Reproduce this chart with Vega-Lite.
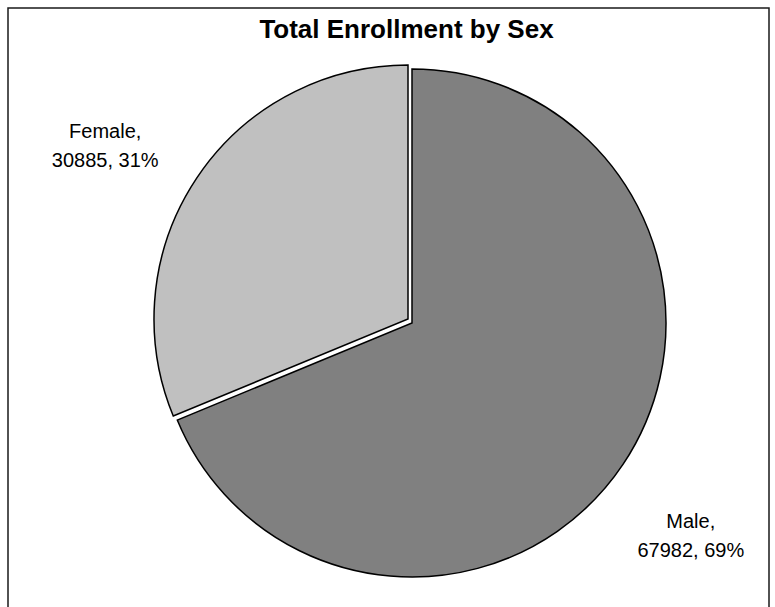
{
  "$schema": "https://vega.github.io/schema/vega-lite/v6.json",
  "width": 761,
  "height": 600,
  "autosize": {"type": "none"},
  "padding": {"left": 8, "top": 8, "right": 6, "bottom": 0},
  "background": "white",
  "config": {"view": {"stroke": null}, "font": "Liberation Sans"},
  "title": {"text": "Total Enrollment by Sex", "font": "Liberation Sans", "fontSize": 26, "fontWeight": "bold", "color": "black", "anchor": "middle", "orient": "top", "offset": -57, "baseline": "alphabetic", "dx": 18},
  "data": {"values": [
    {"sex": "Male", "n": 67982, "label": "Male,\n67982, 69%"},
    {"sex": "Female", "n": 30885, "label": "Female,\n30885, 31%"}
  ]},
  "layer": [
    {
      "data": {"values": [{"frame": "border"}]},
      "mark": {"type": "rect", "fill": null, "stroke": "#1a1a1a", "strokeWidth": 1.5},
      "encoding": {}
    },
    {
      "mark": {"type": "arc", "radius": 254, "stroke": "black", "strokeWidth": 1.5, "xOffset": 23.5, "yOffset": 15},
      "encoding": {
        "theta": {"field": "n", "type": "quantitative", "stack": true},
        "order": {"field": "sex", "sort": "descending"},
        "color": {"field": "sex", "type": "nominal", "scale": {"domain": ["Male", "Female"], "range": ["#808080", "#C0C0C0"]}, "legend": null},
        "opacity": {"condition": {"test": "datum.sex === 'Female'", "value": 0}, "value": 1}
      }
    },
    {
      "mark": {"type": "arc", "radius": 254, "stroke": "black", "strokeWidth": 1.5, "xOffset": 19.5, "yOffset": 11},
      "encoding": {
        "theta": {"field": "n", "type": "quantitative", "stack": true},
        "order": {"field": "sex", "sort": "descending"},
        "color": {"field": "sex", "type": "nominal", "scale": {"domain": ["Male", "Female"], "range": ["#808080", "#C0C0C0"]}, "legend": null},
        "opacity": {"condition": {"test": "datum.sex === 'Male'", "value": 0}, "value": 1}
      }
    },
    {
      "mark": {"type": "text", "radius": 345, "fontSize": 20, "lineBreak": "\n", "lineHeight": 29, "align": "center", "baseline": "middle", "xOffset": 3.5, "yOffset": 16, "font": "Liberation Sans", "color": "black"},
      "encoding": {
        "theta": {"field": "n", "type": "quantitative", "stack": true},
        "order": {"field": "sex", "sort": "descending"},
        "text": {"condition": {"test": "datum.sex === 'Female'", "field": "label"}, "value": ""}
      }
    },
    {
      "mark": {"type": "text", "radius": 345, "fontSize": 20, "lineBreak": "\n", "lineHeight": 29, "align": "center", "baseline": "middle", "xOffset": 15.5, "yOffset": 22, "font": "Liberation Sans", "color": "black"},
      "encoding": {
        "theta": {"field": "n", "type": "quantitative", "stack": true},
        "order": {"field": "sex", "sort": "descending"},
        "text": {"condition": {"test": "datum.sex === 'Male'", "field": "label"}, "value": ""}
      }
    }
  ]
}
